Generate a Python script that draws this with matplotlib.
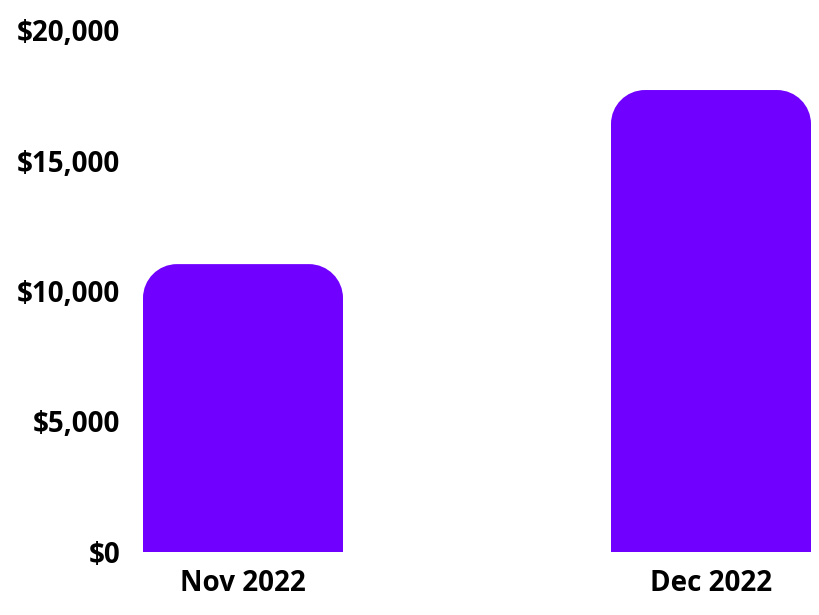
import matplotlib
matplotlib.use("Agg")
import matplotlib.pyplot as plt
from matplotlib.patches import PathPatch
from matplotlib.path import Path
from matplotlib.ticker import FuncFormatter

categories = ["Nov 2022", "Dec 2022"]
values = [11030, 17700]
yticks = [0, 5000, 10000, 15000, 20000]

COLOR = "#7000ff"
plt.rcParams['font.family'] = ['Open Sans', 'DejaVu Sans']

W, H = 820, 615
fig = plt.figure(figsize=(W / 100, H / 100), dpi=100)
ax_left, ax_right = 130, 820
ax_bottom, ax_top = 552, 30
ax = fig.add_axes([ax_left / W, (H - ax_bottom) / H, (ax_right - ax_left) / W, (ax_bottom - ax_top) / H])

x = list(range(len(categories)))
centers_px = [243, 711]
px_per_unit = centers_px[1] - centers_px[0]
xmin = -(centers_px[0] - ax_left) / px_per_unit
xmax = 1 + (ax_right - centers_px[1]) / px_per_unit
ax.set_xlim(xmin, xmax)
ax.set_ylim(0, 20000)

bar_w = 200 / px_per_unit
bars = ax.bar(x, values, width=bar_w, color=COLOR)

radius_px = 34
px_per_y = (ax_bottom - ax_top) / 20000
rx = radius_px / px_per_unit
ry = radius_px / px_per_y
k = 0.5523
for b in bars:
    x0, w, h = b.get_x(), b.get_width(), b.get_height()
    x1 = x0 + w
    b.set_visible(False)
    verts = [
        (x0, 0), (x0, h - ry),
        (x0, h - ry + k * ry), (x0 + rx - k * rx, h), (x0 + rx, h),
        (x1 - rx, h),
        (x1 - rx + k * rx, h), (x1, h - ry + k * ry), (x1, h - ry),
        (x1, 0), (x0, 0),
    ]
    codes = [Path.MOVETO, Path.LINETO,
             Path.CURVE4, Path.CURVE4, Path.CURVE4,
             Path.LINETO,
             Path.CURVE4, Path.CURVE4, Path.CURVE4,
             Path.LINETO, Path.CLOSEPOLY]
    ax.add_patch(PathPatch(Path(verts, codes), facecolor=COLOR, edgecolor="none"))

ax.set_xticks(x)
ax.set_xticklabels(categories)
ax.set_yticks(yticks)
ax.yaxis.set_major_formatter(FuncFormatter(lambda v, p: f"${v:,.0f}"))
for s in ax.spines.values():
    s.set_visible(False)
ax.tick_params(axis='both', length=0, labelsize=20, labelcolor="#000000")
ax.tick_params(axis='y', pad=7)
ax.tick_params(axis='x', pad=12)
for lab in ax.get_xticklabels() + ax.get_yticklabels():
    lab.set_fontweight('bold')

fig.savefig("out.png", dpi=100, facecolor="white")
